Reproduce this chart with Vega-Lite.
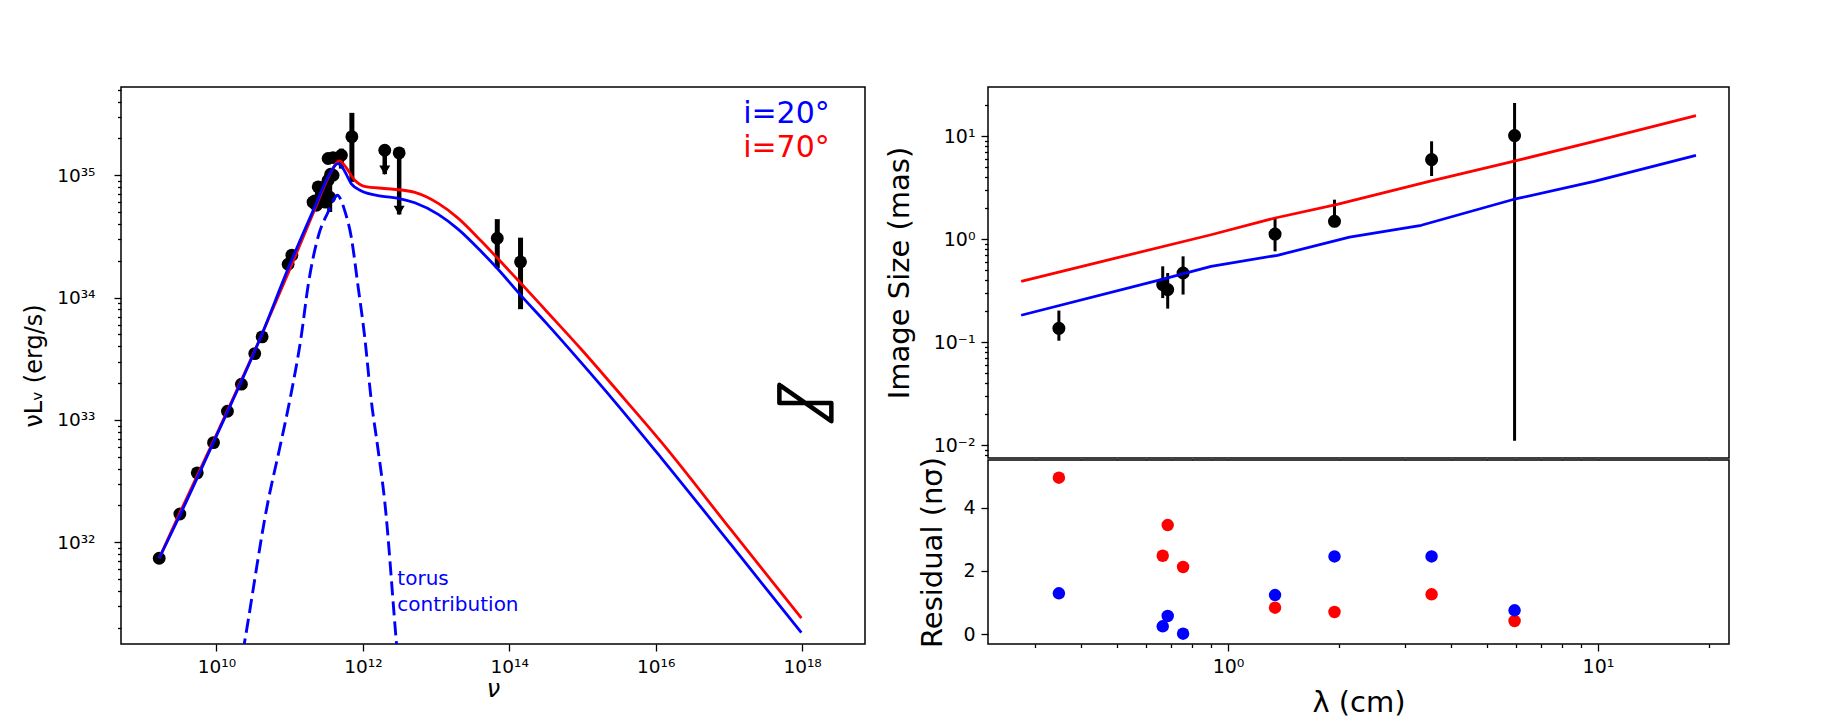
{
  "$schema": "https://vega.github.io/schema/vega-lite/v6.json",
  "background": "white",
  "padding": {"left": 21, "top": 86, "right": 20, "bottom": 5},
  "bounds": "flush",
  "spacing": 123,
  "resolve": {"scale": {"x": "independent", "y": "independent"}},
  "config": {
    "font": "DejaVu Sans",
    "view": {"stroke": "black", "strokeWidth": 1.5},
    "axis": {
      "domain": false,
      "grid": false,
      "tickColor": "black",
      "tickWidth": 1.3,
      "labelColor": "black",
      "titleColor": "black",
      "labelFont": "DejaVu Sans",
      "titleFont": "DejaVu Sans",
      "titleFontWeight": "normal",
      "labelOverlap": false,
      "labelFlush": false,
      "labelBound": false
    }
  },
  "datasets": {
    "sed_obs": [
      {"nu": 1.652e9, "L": 7.40e31},
      {"nu": 3.162e9, "L": 1.70e32},
      {"nu": 5.47e9, "L": 3.69e32},
      {"nu": 9.12e9, "L": 6.52e32},
      {"nu": 1.413e10, "L": 1.178e33},
      {"nu": 2.193e10, "L": 1.959e33},
      {"nu": 3.334e10, "L": 3.483e33},
      {"nu": 4.207e10, "L": 4.775e33},
      {"nu": 9.53e10, "L": 1.875e34},
      {"nu": 1.072e11, "L": 2.223e34},
      {"nu": 2.089e11, "L": 6.03e34},
      {"nu": 2.198e11, "L": 6.17e34},
      {"nu": 2.317e11, "L": 5.69e34},
      {"nu": 2.455e11, "L": 8.04e34},
      {"nu": 2.57e11, "L": 6.25e34},
      {"nu": 2.71e11, "L": 7.08e34},
      {"nu": 3.006e11, "L": 8.04e34},
      {"nu": 3.076e11, "L": 6.03e34},
      {"nu": 3.35e11, "L": 9.12e34},
      {"nu": 3.35e11, "L": 1.371e35},
      {"nu": 3.524e11, "L": 6.61e34, "lo": 5.01e34, "hi": 9.12e34},
      {"nu": 3.631e11, "L": 1.021e35},
      {"nu": 3.917e11, "L": 1.0e35},
      {"nu": 3.917e11, "L": 1.396e35},
      {"nu": 5.09e11, "L": 1.459e35, "lo": 1.135e35, "hi": 1.652e35},
      {"nu": 7.08e11, "L": 2.07e35, "lo": 8.83e34, "hi": 3.24e35},
      {"nu": 6.86e13, "L": 3.06e34, "lo": 1.74e34, "hi": 4.38e34},
      {"nu": 1.426e14, "L": 1.96e34, "lo": 8.04e33, "hi": 3.09e34}
    ],
    "sed_lim": [
      {"nu": 1.991e12, "L": 1.603e35, "tip": 1.021e35},
      {"nu": 3.133e12, "L": 1.524e35, "tip": 4.786e34}
    ],
    "sed_model": [
      {"model": "i=20°", "nu": 1.652e9, "L": 7.396e31},
      {"model": "i=20°", "nu": 3.162e9, "L": 1.660e32},
      {"model": "i=20°", "nu": 1e10, "L": 7.413e32},
      {"model": "i=20°", "nu": 4.111e10, "L": 4.898e33},
      {"model": "i=20°", "nu": 9.528e10, "L": 1.726e34},
      {"model": "i=20°", "nu": 2.198e11, "L": 5.495e34},
      {"model": "i=20°", "nu": 3.350e11, "L": 9.705e34},
      {"model": "i=20°", "nu": 4.571e11, "L": 1.247e35},
      {"model": "i=20°", "nu": 5.370e11, "L": 1.135e35},
      {"model": "i=20°", "nu": 6.966e11, "L": 8.511e34},
      {"model": "i=20°", "nu": 9.550e11, "L": 7.447e34},
      {"model": "i=20°", "nu": 1.778e12, "L": 6.761e34},
      {"model": "i=20°", "nu": 3.162e12, "L": 6.457e34},
      {"model": "i=20°", "nu": 5.129e12, "L": 5.957e34},
      {"model": "i=20°", "nu": 1.072e13, "L": 4.786e34},
      {"model": "i=20°", "nu": 1.995e13, "L": 3.631e34},
      {"model": "i=20°", "nu": 4.169e13, "L": 2.371e34},
      {"model": "i=20°", "nu": 7.079e13, "L": 1.698e34},
      {"model": "i=20°", "nu": 1.429e14, "L": 1.047e34},
      {"model": "i=20°", "nu": 3.162e14, "L": 6.237e33},
      {"model": "i=20°", "nu": 9.550e14, "L": 2.951e33},
      {"model": "i=20°", "nu": 2.754e15, "L": 1.413e33},
      {"model": "i=20°", "nu": 1.189e16, "L": 4.898e32},
      {"model": "i=20°", "nu": 1.072e17, "L": 9.550e31},
      {"model": "i=20°", "nu": 9.772e17, "L": 1.820e31},
      {"model": "i=70°", "nu": 1.652e9, "L": 7.413e31},
      {"model": "i=70°", "nu": 3.162e9, "L": 1.738e32},
      {"model": "i=70°", "nu": 1e10, "L": 7.586e32},
      {"model": "i=70°", "nu": 4.111e10, "L": 4.898e33},
      {"model": "i=70°", "nu": 9.528e10, "L": 1.585e34},
      {"model": "i=70°", "nu": 2.198e11, "L": 5.248e34},
      {"model": "i=70°", "nu": 3.350e11, "L": 9.550e34},
      {"model": "i=70°", "nu": 4.831e11, "L": 1.312e35},
      {"model": "i=70°", "nu": 5.623e11, "L": 1.202e35},
      {"model": "i=70°", "nu": 7.762e11, "L": 9.120e34},
      {"model": "i=70°", "nu": 1.047e12, "L": 8.128e34},
      {"model": "i=70°", "nu": 2.188e12, "L": 7.762e34},
      {"model": "i=70°", "nu": 5.129e12, "L": 7.244e34},
      {"model": "i=70°", "nu": 1.072e13, "L": 5.888e34},
      {"model": "i=70°", "nu": 1.995e13, "L": 4.467e34},
      {"model": "i=70°", "nu": 4.169e13, "L": 2.884e34},
      {"model": "i=70°", "nu": 7.079e13, "L": 2.065e34},
      {"model": "i=70°", "nu": 1.429e14, "L": 1.318e34},
      {"model": "i=70°", "nu": 3.162e14, "L": 7.852e33},
      {"model": "i=70°", "nu": 9.550e14, "L": 3.802e33},
      {"model": "i=70°", "nu": 3.758e15, "L": 1.479e33},
      {"model": "i=70°", "nu": 1.189e16, "L": 6.607e32},
      {"model": "i=70°", "nu": 1.072e17, "L": 1.259e32},
      {"model": "i=70°", "nu": 9.772e17, "L": 2.399e31}
    ],
    "torus": [
      {"model": "torus", "nu": 2.291e10, "L": 1.259e31},
      {"model": "torus", "nu": 2.432e10, "L": 1.549e31},
      {"model": "torus", "nu": 5.082e10, "L": 2.178e32},
      {"model": "torus", "nu": 7.311e10, "L": 5.888e32},
      {"model": "torus", "nu": 1.0e11, "L": 1.429e33},
      {"model": "torus", "nu": 1.445e11, "L": 4.898e33},
      {"model": "torus", "nu": 1.778e11, "L": 1.230e34},
      {"model": "torus", "nu": 2.512e11, "L": 3.311e34},
      {"model": "torus", "nu": 3.350e11, "L": 5.012e34},
      {"model": "torus", "nu": 3.981e11, "L": 6.310e34},
      {"model": "torus", "nu": 4.487e11, "L": 6.871e34},
      {"model": "torus", "nu": 5.012e11, "L": 6.310e34},
      {"model": "torus", "nu": 5.623e11, "L": 5.188e34},
      {"model": "torus", "nu": 6.918e11, "L": 3.162e34},
      {"model": "torus", "nu": 8.610e11, "L": 1.230e34},
      {"model": "torus", "nu": 1.059e12, "L": 4.786e33},
      {"model": "torus", "nu": 1.306e12, "L": 1.429e33},
      {"model": "torus", "nu": 1.611e12, "L": 5.754e32},
      {"model": "torus", "nu": 1.986e12, "L": 2.178e32},
      {"model": "torus", "nu": 2.864e12, "L": 1.549e31},
      {"model": "torus", "nu": 2.951e12, "L": 1.259e31}
    ],
    "xray": [
      {"k": 1, "nu": 4.898e17, "L": 1.932e33},
      {"k": 2, "nu": 4.898e17, "L": 1.377e33},
      {"k": 3, "nu": 2.512e18, "L": 1.377e33},
      {"k": 4, "nu": 2.512e18, "L": 9.77e32},
      {"k": 5, "nu": 4.898e17, "L": 1.932e33}
    ],
    "sed_labels": [
      {"series": "i=20°", "text": "i=20°", "nu": 1.567e17, "L": 2.70e35},
      {"series": "i=70°", "text": "i=70°", "nu": 1.567e17, "L": 1.413e35}
    ],
    "torus_label": [
      {"series": "torus", "text": "torus", "nu": 2.958e12, "L": 4.446e31},
      {"series": "torus", "text": "contribution", "nu": 2.958e12, "L": 2.742e31}
    ],
    "size_obs": [
      {"lam": 0.349, "size": 0.136, "lo": 0.103, "hi": 0.202},
      {"lam": 0.666, "size": 0.361, "lo": 0.267, "hi": 0.543},
      {"lam": 0.687, "size": 0.323, "lo": 0.211, "hi": 0.468},
      {"lam": 0.756, "size": 0.468, "lo": 0.289, "hi": 0.679},
      {"lam": 1.34, "size": 1.118, "lo": 0.76, "hi": 1.635},
      {"lam": 1.94, "size": 1.485, "lo": 1.35, "hi": 2.41},
      {"lam": 3.55, "size": 5.90, "lo": 4.09, "hi": 8.89},
      {"lam": 5.95, "size": 10.09, "lo": 0.011, "hi": 20.9}
    ],
    "size_model": [
      {"model": "i=20°", "lam": 0.276, "size": 0.182},
      {"model": "i=20°", "lam": 0.659, "size": 0.404},
      {"model": "i=20°", "lam": 0.9, "size": 0.543},
      {"model": "i=20°", "lam": 1.36, "size": 0.695},
      {"model": "i=20°", "lam": 2.13, "size": 1.045},
      {"model": "i=20°", "lam": 3.33, "size": 1.36},
      {"model": "i=20°", "lam": 5.9, "size": 2.42},
      {"model": "i=20°", "lam": 9.77, "size": 3.63},
      {"model": "i=20°", "lam": 18.4, "size": 6.5},
      {"model": "i=70°", "lam": 0.276, "size": 0.388},
      {"model": "i=70°", "lam": 0.5, "size": 0.656},
      {"model": "i=70°", "lam": 0.9, "size": 1.10},
      {"model": "i=70°", "lam": 1.34, "size": 1.6},
      {"model": "i=70°", "lam": 1.96, "size": 2.16},
      {"model": "i=70°", "lam": 3.5, "size": 3.63},
      {"model": "i=70°", "lam": 5.9, "size": 5.67},
      {"model": "i=70°", "lam": 9.77, "size": 8.89},
      {"model": "i=70°", "lam": 18.4, "size": 15.8}
    ],
    "resid": [
      {"model": "i=70°", "lam": 0.349, "res": 4.945},
      {"model": "i=70°", "lam": 0.666, "res": 2.48},
      {"model": "i=70°", "lam": 0.687, "res": 3.45},
      {"model": "i=70°", "lam": 0.756, "res": 2.125},
      {"model": "i=70°", "lam": 1.34, "res": 0.84},
      {"model": "i=70°", "lam": 1.94, "res": 0.704},
      {"model": "i=70°", "lam": 3.55, "res": 1.263},
      {"model": "i=70°", "lam": 5.95, "res": 0.42},
      {"model": "i=20°", "lam": 0.349, "res": 1.295},
      {"model": "i=20°", "lam": 0.666, "res": 0.253},
      {"model": "i=20°", "lam": 0.687, "res": 0.578},
      {"model": "i=20°", "lam": 0.756, "res": 0.02},
      {"model": "i=20°", "lam": 1.34, "res": 1.24},
      {"model": "i=20°", "lam": 1.94, "res": 2.46},
      {"model": "i=20°", "lam": 3.55, "res": 2.46},
      {"model": "i=20°", "lam": 5.95, "res": 0.758}
    ]
  },
  "hconcat": [
    {
      "width": 744,
      "height": 557,
      "encoding": {
        "x": {
          "field": "nu",
          "type": "quantitative",
          "scale": {"type": "log", "domain": [4.966e8, 7.24e18], "nice": false},
          "axis": {
            "values": [1e10, 1e12, 1e14, 1e16, 1e18],
            "labelExpr": "datum.value == 1e10 ? '10¹⁰' : datum.value == 1e12 ? '10¹²' : datum.value == 1e14 ? '10¹⁴' : datum.value == 1e16 ? '10¹⁶' : datum.value == 1e18 ? '10¹⁸' : ''",
            "tickSize": 7,
            "labelPadding": 6,
            "labelFontSize": 18.5,
            "title": "ν",
            "titleFontSize": 24,
            "titleFontStyle": "italic",
            "titlePadding": 8,
            "minExtent": 25,
            "maxExtent": 25
          }
        },
        "y": {
          "field": "L",
          "type": "quantitative",
          "scale": {"type": "log", "domain": [1.472e31, 5.27e35], "nice": false},
          "axis": {
            "values": [2e31, 3e31, 4e31, 5e31, 6e31, 7e31, 8e31, 9e31, 1e32, 2e32, 3e32, 4e32, 5e32, 6e32, 7e32, 8e32, 9e32, 1e33, 2e33, 3e33, 4e33, 5e33, 6e33, 7e33, 8e33, 9e33, 1e34, 2e34, 3e34, 4e34, 5e34, 6e34, 7e34, 8e34, 9e34, 1e35, 2e35, 3e35, 4e35, 5e35],
            "labelExpr": "datum.value == 1e32 ? '10³²' : datum.value == 1e33 ? '10³³' : datum.value == 1e34 ? '10³⁴' : datum.value == 1e35 ? '10³⁵' : ''",
            "tickSize": {"condition": {"test": "abs(log(datum.value)/LN10 - round(log(datum.value)/LN10)) < 0.001", "value": 7}, "value": 3.5},
            "labelFontSize": {"condition": {"test": "abs(log(datum.value)/LN10 - round(log(datum.value)/LN10)) < 0.001", "value": 18.5}, "value": 0},
            "labelPadding": 19,
            "title": "νLᵥ (erg/s)",
            "titleFontSize": 24,
            "titlePadding": 14,
            "minExtent": 61,
            "maxExtent": 61
          }
        }
      },
      "layer": [
        {
          "data": {"name": "sed_obs"},
          "transform": [{"filter": "isValid(datum.lo)"}],
          "mark": {"type": "rule", "color": "black", "strokeWidth": 5},
          "encoding": {
            "y": {"field": "lo", "type": "quantitative", "scale": {"type": "log", "domain": [1.472e31, 5.27e35], "nice": false}},
            "y2": {"field": "hi"}
          }
        },
        {
          "data": {"name": "sed_lim"},
          "mark": {"type": "rule", "color": "black", "strokeWidth": 4.5},
          "encoding": {"y2": {"field": "tip"}}
        },
        {
          "data": {"name": "sed_lim"},
          "mark": {"type": "point", "shape": "triangle-down", "filled": true, "color": "black", "opacity": 1, "size": 120, "yOffset": -4},
          "encoding": {
            "y": {"field": "tip", "type": "quantitative", "scale": {"type": "log", "domain": [1.472e31, 5.27e35], "nice": false}}
          }
        },
        {
          "data": {"name": "sed_lim"},
          "mark": {"type": "circle", "color": "black", "opacity": 1, "size": 165}
        },
        {
          "data": {"name": "sed_obs"},
          "mark": {"type": "circle", "color": "black", "opacity": 1, "size": 165}
        },
        {
          "data": {"name": "xray"},
          "mark": {"type": "line", "color": "black", "strokeWidth": 4.5, "strokeJoin": "round", "strokeCap": "round"},
          "encoding": {"order": {"field": "k", "type": "quantitative"}}
        },
        {
          "data": {"name": "sed_model"},
          "transform": [{"filter": {"field": "model", "equal": "i=70°"}}],
          "mark": {"type": "line", "strokeWidth": 2.8, "strokeJoin": "round", "interpolate": "monotone"},
          "encoding": {
            "color": {"field": "model", "type": "nominal", "scale": {"domain": ["i=20°", "i=70°", "torus"], "range": ["#0000ff", "#ff0000", "#0000ff"]}, "legend": null}
          }
        },
        {
          "data": {"name": "sed_model"},
          "transform": [{"filter": {"field": "model", "equal": "i=20°"}}],
          "mark": {"type": "line", "strokeWidth": 2.8, "strokeJoin": "round", "interpolate": "monotone"},
          "encoding": {
            "color": {"field": "model", "type": "nominal", "scale": {"domain": ["i=20°", "i=70°", "torus"], "range": ["#0000ff", "#ff0000", "#0000ff"]}, "legend": null}
          }
        },
        {
          "data": {"name": "torus"},
          "mark": {"type": "line", "strokeWidth": 2.9, "strokeDash": [14, 6], "clip": true, "interpolate": "monotone"},
          "encoding": {
            "color": {"field": "model", "type": "nominal", "scale": {"domain": ["i=20°", "i=70°", "torus"], "range": ["#0000ff", "#ff0000", "#0000ff"]}, "legend": null}
          }
        },
        {
          "data": {"name": "sed_labels"},
          "mark": {"type": "text", "align": "left", "baseline": "alphabetic", "fontSize": 30, "font": "DejaVu Sans"},
          "encoding": {
            "text": {"field": "text"},
            "color": {"field": "series", "type": "nominal", "scale": {"domain": ["i=20°", "i=70°", "torus"], "range": ["#0000ff", "#ff0000", "#0000ff"]}, "legend": null}
          }
        },
        {
          "data": {"name": "torus_label"},
          "mark": {"type": "text", "align": "left", "baseline": "alphabetic", "fontSize": 20, "font": "DejaVu Sans"},
          "encoding": {
            "text": {"field": "text"},
            "color": {"field": "series", "type": "nominal", "scale": {"domain": ["i=20°", "i=70°", "torus"], "range": ["#0000ff", "#ff0000", "#0000ff"]}, "legend": null}
          }
        }
      ]
    },
    {
      "bounds": "flush",
      "spacing": 2,
      "resolve": {"scale": {"x": "independent", "y": "independent"}},
      "vconcat": [
        {
          "width": 741,
          "height": 371,
          "encoding": {
            "x": {
              "field": "lam",
              "type": "quantitative",
              "scale": {"type": "log", "domain": [0.2245, 22.6], "nice": false},
              "axis": {
                "values": [0.3, 0.4, 0.5, 0.6, 0.7, 0.8, 0.9, 1, 2, 3, 4, 5, 6, 7, 8, 9, 10, 20],
                "labels": false,
                "tickSize": 2,
                "tickColor": "#888888",
                "title": null
              }
            },
            "y": {
              "field": "size",
              "type": "quantitative",
              "scale": {"type": "log", "domain": [0.007482, 29.92], "nice": false},
              "axis": {
                "values": [0.008, 0.009, 0.01, 0.02, 0.03, 0.04, 0.05, 0.06, 0.07, 0.08, 0.09, 0.1, 0.2, 0.3, 0.4, 0.5, 0.6, 0.7, 0.8, 0.9, 1, 2, 3, 4, 5, 6, 7, 8, 9, 10, 20],
                "labelExpr": "datum.value == 0.01 ? '10⁻²' : datum.value == 0.1 ? '10⁻¹' : datum.value == 1 ? '10⁰' : datum.value == 10 ? '10¹' : ''",
                "tickSize": {"condition": {"test": "abs(log(datum.value)/LN10 - round(log(datum.value)/LN10)) < 0.001", "value": 7}, "value": 3.5},
                "labelFontSize": {"condition": {"test": "abs(log(datum.value)/LN10 - round(log(datum.value)/LN10)) < 0.001", "value": 19}, "value": 0},
                "labelPadding": 6,
                "title": "Image Size (mas)",
                "titleFontSize": 29,
                "titlePadding": 10,
                "minExtent": 64,
                "maxExtent": 64
              }
            }
          },
          "layer": [
            {
              "data": {"name": "size_obs"},
              "mark": {"type": "rule", "color": "black", "strokeWidth": 3},
              "encoding": {
                "y": {"field": "lo", "type": "quantitative", "scale": {"type": "log", "domain": [0.007482, 29.92], "nice": false}},
                "y2": {"field": "hi"}
              }
            },
            {
              "data": {"name": "size_obs"},
              "mark": {"type": "circle", "color": "black", "opacity": 1, "size": 170}
            },
            {
              "data": {"name": "size_model"},
              "transform": [{"filter": {"field": "model", "equal": "i=70°"}}],
              "mark": {"type": "line", "strokeWidth": 2.8, "strokeJoin": "round"},
              "encoding": {
                "color": {"field": "model", "type": "nominal", "scale": {"domain": ["i=20°", "i=70°", "torus"], "range": ["#0000ff", "#ff0000", "#0000ff"]}, "legend": null}
              }
            },
            {
              "data": {"name": "size_model"},
              "transform": [{"filter": {"field": "model", "equal": "i=20°"}}],
              "mark": {"type": "line", "strokeWidth": 2.8, "strokeJoin": "round"},
              "encoding": {
                "color": {"field": "model", "type": "nominal", "scale": {"domain": ["i=20°", "i=70°", "torus"], "range": ["#0000ff", "#ff0000", "#0000ff"]}, "legend": null}
              }
            }
          ]
        },
        {
          "width": 741,
          "height": 184,
          "data": {"name": "resid"},
          "mark": {"type": "circle", "opacity": 1, "size": 155},
          "encoding": {
            "x": {
              "field": "lam",
              "type": "quantitative",
              "scale": {"type": "log", "domain": [0.2245, 22.6], "nice": false},
              "axis": {
                "values": [0.3, 0.4, 0.5, 0.6, 0.7, 0.8, 0.9, 1, 2, 3, 4, 5, 6, 7, 8, 9, 10, 20],
                "labelExpr": "datum.value == 1 ? '10⁰' : datum.value == 10 ? '10¹' : ''",
                "tickSize": {"condition": {"test": "abs(log(datum.value)/LN10 - round(log(datum.value)/LN10)) < 0.001", "value": 7}, "value": 3.5},
                "labelPadding": 6,
                "labelFontSize": 19,
                "title": "λ (cm)",
                "titleFontSize": 29,
                "titlePadding": 14,
                "minExtent": 30,
                "maxExtent": 30
              }
            },
            "y": {
              "field": "res",
              "type": "quantitative",
              "scale": {"domain": [-0.306, 5.504], "nice": false, "zero": false},
              "axis": {
                "values": [0, 2, 4],
                "tickSize": 7,
                "labelPadding": 6,
                "labelFontSize": 19,
                "title": "Residual (nσ)",
                "titleFontSize": 29,
                "titlePadding": 16,
                "minExtent": 25,
                "maxExtent": 25
              }
            },
            "color": {"field": "model", "type": "nominal", "scale": {"domain": ["i=20°", "i=70°", "torus"], "range": ["#0000ff", "#ff0000", "#0000ff"]}, "legend": null},
            "order": {"field": "model", "sort": "descending"}
          }
        }
      ]
    }
  ]
}
